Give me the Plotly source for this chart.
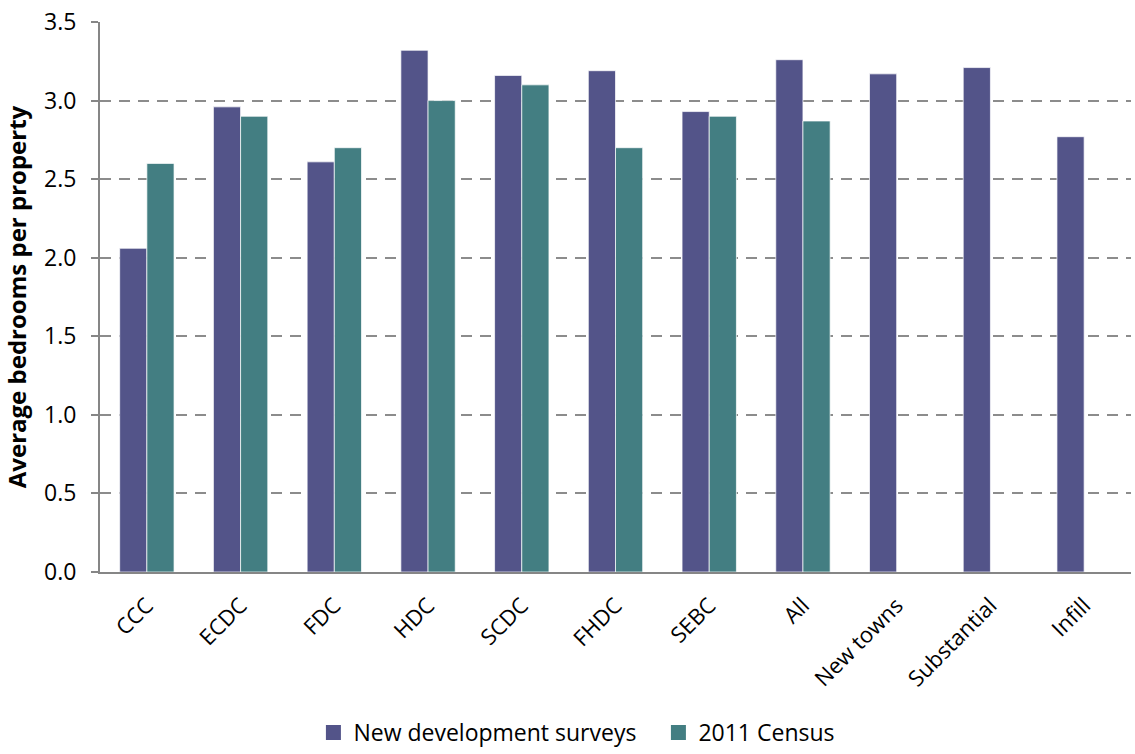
import plotly.graph_objects as go

categories = ["CCC", "ECDC", "FDC", "HDC", "SCDC", "FHDC", "SEBC", "All",
              "New towns", "Substantial", "Infill"]
new_dev = [2.06, 2.96, 2.61, 3.32, 3.16, 3.19, 2.93, 3.26, 3.17, 3.21, 2.77]
census_2011 = [2.60, 2.90, 2.70, 3.00, 3.10, 2.70, 2.90, 2.87, None, None, None]

series_names = ["New development surveys", "2011 Census"]
series_colors = ["#535489", "#437E82"]

y_ticks = [0.0, 0.5, 1.0, 1.5, 2.0, 2.5, 3.0, 3.5]
y_tick_text = [f"{v:.1f}" for v in y_ticks]

font_family = "Open Sans, Liberation Sans, sans-serif"
axis_grey = "#868686"
bar_edge = dict(color="rgba(255,255,255,0.7)", width=1)

fig = go.Figure()
for name, values, color in zip(series_names, [new_dev, census_2011], series_colors):
    fig.add_trace(go.Bar(
        x=categories, y=values, name=name, showlegend=False,
        marker=dict(color=color, line=bar_edge),
    ))

# Legend entries with larger square swatches
for name, color in zip(series_names, series_colors):
    fig.add_trace(go.Scatter(
        x=[None], y=[None], mode="markers", name=name,
        marker=dict(symbol="square", size=15, color=color),
    ))

fig.update_layout(
    width=1135, height=754,
    margin=dict(l=100, r=4, t=22, b=182),
    paper_bgcolor="white", plot_bgcolor="white",
    barmode="group", bargap=0.42, bargroupgap=0,
    font=dict(family=font_family, color="black", size=22),
    legend=dict(orientation="h", x=0.207, xanchor="left",
                yref="container", y=0.0, yanchor="bottom",
                font=dict(size=23), itemwidth=30, traceorder="normal",
                itemsizing="trace", entrywidth=300),
    xaxis=dict(
        showline=True, linecolor=axis_grey, linewidth=2,
        tickangle=-45, tickfont=dict(size=22), ticks="",
        ticklabelstandoff=10,
        showgrid=False, automargin=False,
    ),
    yaxis=dict(
        range=[0, 3.5], tickvals=y_ticks, ticktext=y_tick_text,
        showline=True, linecolor=axis_grey, linewidth=2,
        ticks="outside", ticklen=7, tickcolor=axis_grey, tickwidth=2,
        showgrid=True, gridcolor="#8c8c8c", gridwidth=2, griddash="11px,8px",
        zeroline=False, tickfont=dict(size=23), ticklabelstandoff=10,
        automargin=False,
        title=dict(text="<b>Average bedrooms per property</b>",
                   font=dict(size=24), standoff=12),
    ),
)

fig.write_html("out.html")
